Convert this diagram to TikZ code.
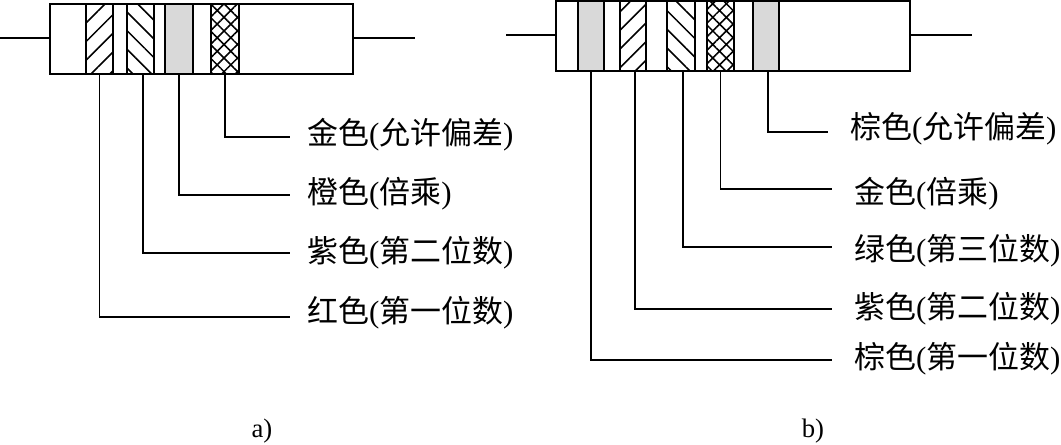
\documentclass[tikz,border=0pt]{standalone}
\usepackage{fontspec}
\setmainfont{Liberation Serif}
\newfontfamily\cjk{Noto Sans CJK SC}
\usetikzlibrary{patterns.meta, positioning}
\newcommand{\bandlabel}[2]{{\cjk #1}({\cjk #2})}
\tikzset{
  resbody/.style={rectangle, draw=black, line width=1.5pt, fill=white,
    minimum width=7.575cm, minimum height=1.75cm, inner sep=0pt, outer sep=0pt},
  band/.style={rectangle, draw=black, line width=1.4pt,
    minimum height=1.75cm, inner sep=0pt, outer sep=0pt},
  grayband/.style={band, fill=black!15},
  hatchright/.style={band, pattern={Lines[angle=45, distance=0.33cm, line width=1.1pt]}},
  hatchleft/.style={band, pattern={Lines[angle=-45, distance=0.33cm, line width=1.1pt]}},
  crossband/.style={band, pattern={Hatch[angle=45, distance=0.24cm, line width=1.1pt]}},
  wirelead/.style={line width=1.3pt},
  leader/.style={line width=1.3pt, shorten >=0.425cm},
  leaderb/.style={line width=1.3pt, shorten >=0.55cm},
  bandtext/.style={anchor=west, inner sep=0pt, font=\fontsize{22}{24}\selectfont},
  caption/.style={inner sep=0pt, font=\fontsize{19}{22}\selectfont},
}
\begin{document}
\begin{tikzpicture}
\useasboundingbox (0,0) rectangle (26.525,11.125);

% resistor a
\node (bodya) [resbody] at (5.0375,10.15) {};
\node (a1) [hatchright, minimum width=0.675cm, right=0.9cm of bodya.west, anchor=west] {};
\node (a2) [hatchleft, minimum width=0.675cm, right=0.35cm of a1] {};
\node (a3) [grayband, minimum width=0.7cm, right=0.275cm of a2] {};
\node (a4) [crossband, minimum width=0.7cm, right=0.45cm of a3] {};

\coordinate (aleft) at (0,10.175);
\coordinate (aright) at (10.375,10.175);
\draw[wirelead] (aleft) -- (aleft -| bodya.west);
\draw[wirelead] (aright -| bodya.east) -- (aright);

\node (la4) [bandtext] at (7.675,7.77) {\bandlabel{金色}{允许偏差}};
\node (la3) [bandtext] at (7.675,6.295) {\bandlabel{橙色}{倍乘}};
\node (la2) [bandtext] at (7.675,4.795) {\bandlabel{紫色}{第二位数}};
\node (la1) [bandtext] at (7.675,3.295) {\bandlabel{红色}{第一位数}};

\draw[leader] (a1.south) |- ([yshift=-0.095cm]la1.west);
\draw[leader] ([xshift=0.06cm]a2.south) |- (la2.west);
\draw[leader] (a3.south) |- ([yshift=-0.045cm]la3.west);
\draw[leader] (a4.south) |- ([yshift=-0.07cm]la4.west);

\node (capa) [caption] at (6.55,0.35) {a)};

% resistor b
\node (bodyb) [resbody, minimum width=8.85cm] at (18.325,10.225) {};
\node (b1) [grayband, minimum width=0.65cm, right=0.55cm of bodyb.west, anchor=west] {};
\node (b2) [hatchright, minimum width=0.65cm, right=0.4cm of b1] {};
\node (b3) [hatchleft, minimum width=0.7cm, right=0.525cm of b2] {};
\node (b4) [crossband, minimum width=0.675cm, right=0.3cm of b3] {};
\node (b5) [grayband, minimum width=0.65cm, right=0.475cm of b4] {};

\coordinate (bleft) at (12.65,10.25);
\coordinate (bright) at (24.3,10.25);
\draw[wirelead] (bleft) -- (bleft -| bodyb.west);
\draw[wirelead] (bright -| bodyb.east) -- (bright);

\node (lb5) [bandtext] at (21.25,7.895) {\bandlabel{棕色}{允许偏差}};
\node (lb4) [bandtext] at (21.35,6.295) {\bandlabel{金色}{倍乘}};
\node (lb3) [bandtext] at (21.35,4.845) {\bandlabel{绿色}{第三位数}};
\node (lb2) [bandtext] at (21.35,3.395) {\bandlabel{紫色}{第二位数}};
\node (lb1) [bandtext] at (21.35,2.145) {\bandlabel{棕色}{第一位数}};

\draw[leaderb] (b1.south) |- ([yshift=-0.02cm]lb1.west);
\draw[leaderb] ([xshift=0.06cm]b2.south) |- (lb2.west);
\draw[leaderb] ([xshift=0.05cm]b3.south) |- ([yshift=0.105cm]lb3.west);
\draw[leaderb] (b4.south) |- ([yshift=0.105cm]lb4.west);
\draw[leaderb] ([xshift=0.05cm]b5.south) |- ([yshift=-0.07cm]lb5.west);

\node (capb) [caption] at (20.325,0.35) {b)};

\end{tikzpicture}
\end{document}
